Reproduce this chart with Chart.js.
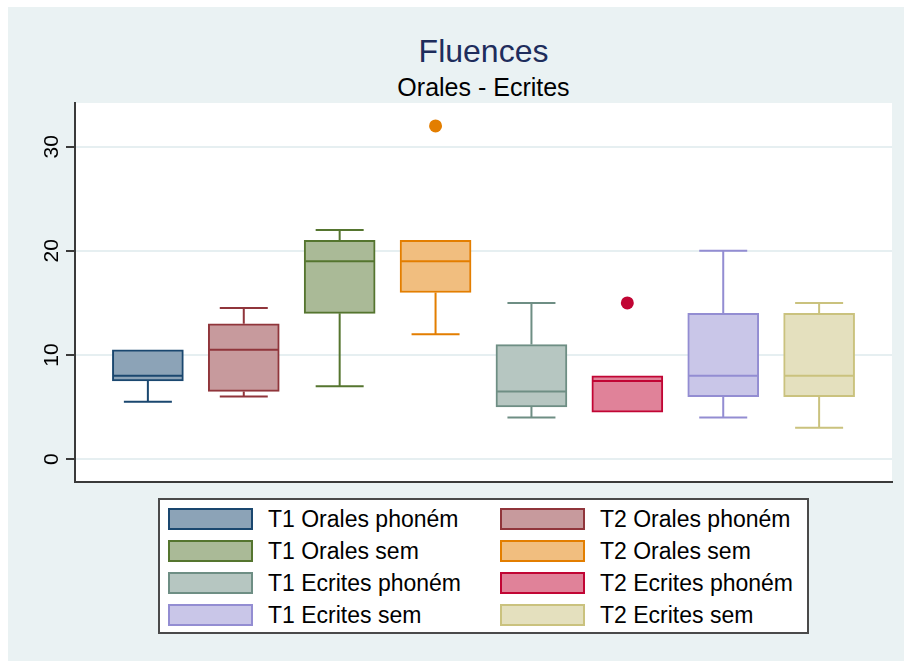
<!DOCTYPE html>
<html>
<head>
<meta charset="utf-8">
<script src="https://cdn.jsdelivr.net/npm/chart.js@4.4.0/dist/chart.umd.min.js"></script>
<style>
  body { margin: 0; width: 904px; height: 661px; overflow: hidden; background: #fff; font-family: "Liberation Sans", Arial, sans-serif; }
  #bg { position: absolute; left: 8px; top: 7px; right: 0; bottom: 0; background: #eaf2f3; }
  .ttl { position: absolute; left: 75px; width: 817px; text-align: center; white-space: nowrap; }
  #title { top: 35px; font-size: 32px; line-height: 32px; color: #1e2d5c; }
  #subtitle { top: 75px; font-size: 25px; line-height: 25px; color: #000; }
  #chart { position: absolute; left: 0; top: 0; }
  #legend { position: absolute; left: 158px; top: 498px; width: 647px; height: 132px; border: 2px solid #4a4a4a; background: #fff; }
  .sw { position: absolute; width: 81px; height: 18px; border: 2px solid; }
  .lt { position: absolute; font-size: 23px; line-height: 24px; color: #000; white-space: nowrap; }
</style>
</head>
<body>
<div id="bg"></div>
<div class="ttl" id="title">Fluences</div>
<div class="ttl" id="subtitle">Orales - Ecrites</div>
<canvas id="chart" width="904" height="490"></canvas>
<div id="legend"></div>
<script>
const groups = ["T1 Orales phoném", "T2 Orales phoném", "T1 Orales sem", "T2 Orales sem",
                "T1 Ecrites phoném", "T2 Ecrites phoném", "T1 Ecrites sem", "T2 Ecrites sem"];
const lowerWhisker = [5.5, 6, 7, 12, 4, 4.5, 4, 3];
const q1 = [7.5, 6.5, 14, 16, 5, 4.5, 6, 6];
const median = [8, 10.5, 19, 19, 6.5, 7.5, 8, 8];
const q3 = [10.5, 13, 21, 21, 11, 8, 14, 14];
const upperWhisker = [10.5, 14.5, 22, 21, 15, 8, 20, 15];
const outlierGroup = [4, 6];
const outlierValue = [32, 15];
const yTicks = [0, 10, 20, 30];

const lineColors = ["#1a476f", "#90353b", "#55752f", "#e37e00", "#6e8e84", "#c10534", "#938dd2", "#cac27e"];
const fillColors = ["#8ca3b7", "#c79a9d", "#aaba97", "#f1be7f", "#b6c6c1", "#e08299", "#c9c6e8", "#e4e0be"];

// white plot region
const plotBg = {
  id: "plotBg",
  beforeDraw(chart) {
    const { ctx, chartArea: a } = chart;
    ctx.save();
    ctx.fillStyle = "#fff";
    ctx.fillRect(a.left, a.top, a.right - a.left, a.bottom - a.top);
    ctx.restore();
  }
};

// medians and whiskers, placed through the chart scales
const boxLines = {
  id: "boxLines",
  afterDatasetsDraw(chart) {
    const { ctx, scales: { x, y } } = chart;
    const bars = chart.getDatasetMeta(0).data;
    const cap = 24;
    ctx.save();
    ctx.lineWidth = 2;
    bars.forEach((bar, i) => {
      const cx = x.getPixelForValue(i + 1);
      const half = bar.width / 2 - 1;
      ctx.strokeStyle = lineColors[i];
      ctx.beginPath();
      const ym = y.getPixelForValue(median[i]);
      ctx.moveTo(cx - half, ym);
      ctx.lineTo(cx + half, ym);
      if (upperWhisker[i] > q3[i]) {
        const yu = y.getPixelForValue(upperWhisker[i]);
        ctx.moveTo(cx, y.getPixelForValue(q3[i]));
        ctx.lineTo(cx, yu);
        ctx.moveTo(cx - cap, yu);
        ctx.lineTo(cx + cap, yu);
      }
      if (lowerWhisker[i] < q1[i]) {
        const yl = y.getPixelForValue(lowerWhisker[i]);
        ctx.moveTo(cx, y.getPixelForValue(q1[i]));
        ctx.lineTo(cx, yl);
        ctx.moveTo(cx - cap, yl);
        ctx.lineTo(cx + cap, yl);
      }
      ctx.stroke();
    });
    ctx.restore();
  }
};

Chart.defaults.font.family = '"Liberation Sans", Arial, sans-serif';

new Chart(document.getElementById("chart"), {
  type: "bar",
  data: {
    datasets: [
      {
        data: groups.map((g, i) => ({ x: i + 1, y: [q1[i], q3[i]] })),
        backgroundColor: fillColors,
        borderColor: lineColors,
        borderWidth: 2,
        borderSkipped: false,
        barThickness: 71
      },
      {
        type: "scatter",
        data: outlierGroup.map((g, i) => ({ x: g, y: outlierValue[i] })),
        pointBackgroundColor: outlierGroup.map(g => lineColors[g - 1]),
        pointBorderWidth: 0,
        pointRadius: 6.5
      }
    ]
  },
  options: {
    responsive: false,
    animation: false,
    layout: { padding: { top: 103, right: 12, bottom: 8, left: 0 } },
    plugins: { legend: { display: false }, tooltip: { enabled: false } },
    scales: {
      x: {
        type: "linear",
        min: 0.24,
        max: 8.76,
        offset: false,
        ticks: { display: false },
        grid: { display: true, drawOnChartArea: false, drawTicks: false, color: "rgba(0,0,0,0)" },
        border: { display: true, color: "#3a3a3a", width: 2 },
        afterFit(scale) { scale.height = 0; scale.paddingLeft = 0; scale.paddingRight = 0; }
      },
      y: {
        min: -2.2,
        max: 34.2,
        afterBuildTicks(scale) { scale.ticks = yTicks.map(v => ({ value: v })); },
        afterFit(scale) { scale.width = 75; scale.paddingTop = 0; scale.paddingBottom = 0; },
        ticks: {
          autoSkip: false,
          minRotation: 90,
          maxRotation: 90,
          crossAlign: "center",
          padding: 2,
          color: "#000",
          font: { size: 21 }
        },
        grid: { color: "#e6eff1", lineWidth: 2, tickColor: "#3a3a3a", tickLength: 9, tickWidth: 2 },
        border: { display: true, color: "#3a3a3a", width: 2 }
      }
    }
  },
  plugins: [plotBg, boxLines]
});

// legend: two columns, filled row by row
const legend = document.getElementById("legend");
const colSwatch = [8, 340];
const colText = [108, 440];
groups.forEach((g, i) => {
  const row = Math.floor(i / 2), col = i % 2;
  const sw = document.createElement("div");
  sw.className = "sw";
  sw.style.left = colSwatch[col] + "px";
  sw.style.top = (8 + row * 32) + "px";
  sw.style.background = fillColors[i];
  sw.style.borderColor = lineColors[i];
  legend.appendChild(sw);
  const t = document.createElement("div");
  t.className = "lt";
  t.style.left = colText[col] + "px";
  t.style.top = (7 + row * 32) + "px";
  t.textContent = g;
  legend.appendChild(t);
});
</script>
</body>
</html>
